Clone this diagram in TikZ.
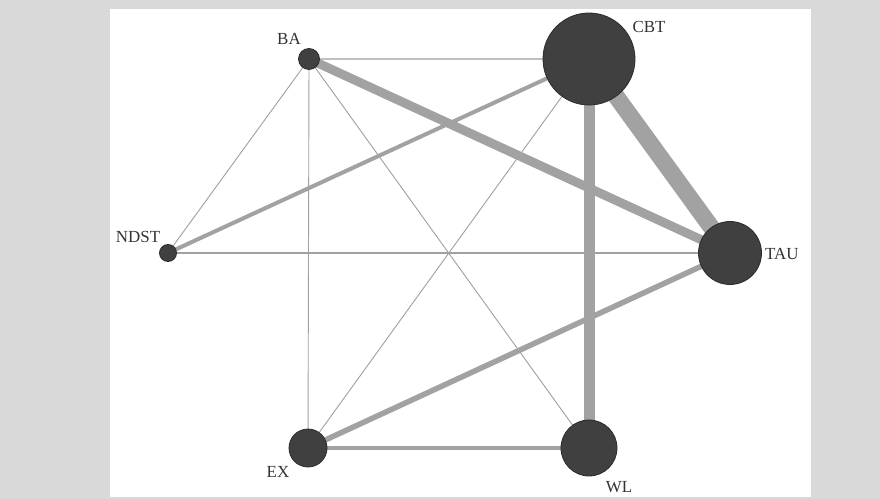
\documentclass[tikz,border=0pt]{standalone}
\usepackage{fontspec}
\setmainfont{Liberation Serif}
\pgfdeclarelayer{bglayer}
\pgfdeclarelayer{edgelayer}
\pgfsetlayers{bglayer,edgelayer,main}
\definecolor{bggray}{HTML}{D9D9D9}
\definecolor{nodefill}{HTML}{404040}
\definecolor{nodeline}{HTML}{2C2C2C}
\definecolor{edgecol}{HTML}{A2A2A2}
\definecolor{thincol}{HTML}{A0A0A0}
\definecolor{labcol}{HTML}{333333}
\tikzset{
  trt/.style={circle, fill=nodefill, draw=nodeline, line width=0.8bp, inner sep=0pt, minimum size=#1},
  lab/.style={text=labcol, font=\fontsize{17}{17}\selectfont, inner sep=0pt},
  thinedge/.style={draw=thincol, line width=0.9bp},
  edge/.style={draw=edgecol, line width=#1},
}
\begin{document}
\begin{tikzpicture}[x=1bp,y=-1bp]
\begin{pgfonlayer}{bglayer}
  \fill[bggray] (0,0) rectangle (880,499);
  \fill[white] (110,9) rectangle (811,497);
\end{pgfonlayer}
\useasboundingbox (0,0) rectangle (880,499);

% treatment nodes
\node[trt=92bp] (cbt)  at (589,59)  {};
\node[trt=63bp] (tau)  at (730,253) {};
\node[trt=56bp] (wl)   at (589,448) {};
\node[trt=38bp] (ex)   at (308,448) {};
\node[trt=21bp] (ba)   at (309,59)  {};
\node[trt=17bp] (ndst) at (168,253) {};

% labels
\node[lab] (lba)   at (289,39)  {BA};
\node[lab] (lcbt)  at (649,27)  {CBT};
\node[lab] (lndst) at (138,237) {NDST};
\node[lab, anchor=west] (ltau) at (765,254) {TAU};
\node[lab] (lex)   at (278,472) {EX};
\node[lab] (lwl)   at (619,487) {WL};

% connectors
\begin{pgfonlayer}{edgelayer}
  \draw[thinedge] (ba.center) -- (ndst.center);
  \draw[thinedge] (ba.center) -- (ex.center);
  \draw[thinedge] (ba.center) -- (wl.center);
  \draw[thinedge] (cbt.center) -- (ex.center);
  \draw[thinedge, line width=1.2bp] (ndst.center) -- (tau.center);
  \draw[thinedge, draw=black!25, line width=1.6bp] (ba.center) -- (cbt.center);
  \draw[edge=4bp] (cbt.center) -- (ndst.center);
  \draw[edge=5.5bp] (tau.center) -- (ex.center);
  \draw[edge=4.5bp] (ex.center) -- (wl.center);
  \draw[edge=9bp] (ba.center) -- (tau.center);
  \draw[edge=11bp] (cbt.center) -- (wl.center);
  \draw[edge=17bp] (cbt.center) -- (tau.center);
\end{pgfonlayer}
\end{tikzpicture}
\end{document}
